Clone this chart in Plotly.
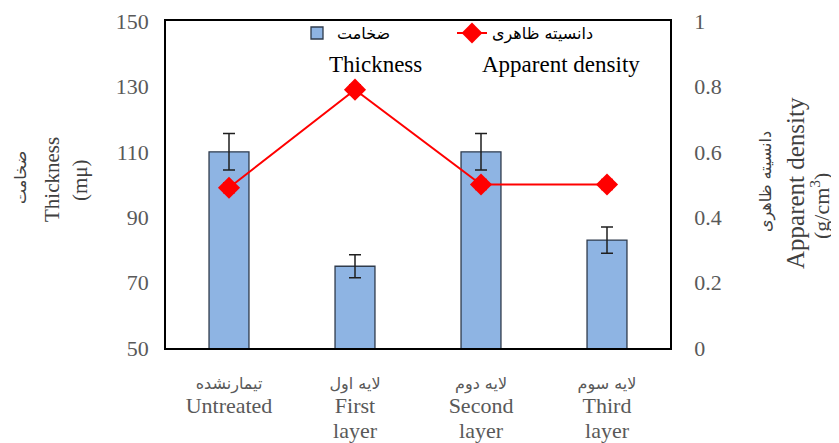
import plotly.graph_objects as go

categories = ["Untreated", "First layer", "Second layer", "Third layer"]
tick_fa = ["تیمارنشده", "لایه اول", "لایه دوم", "لایه سوم"]
tick_en = ["Untreated", "First<br>layer", "Second<br>layer", "Third<br>layer"]
thickness = [110, 75, 110, 83]
thickness_err = [5.6, 3.5, 5.6, 4.0]
density = [0.49, 0.79, 0.50, 0.50]
density_err = [0.015, 0.015, 0.015, 0.015]

SERIF = "Liberation Serif, Times New Roman, serif"
FA = "DejaVu Sans, Noto Sans, sans-serif"

ticktext = []
for f, e in zip(tick_fa, tick_en):
    en = "<br>".join(f"<span style='font-size:22px'>{p}</span>" for p in e.split("<br>"))
    ticktext.append(f"<span style='font-family:{FA};font-size:16px'>{f}</span><br>{en}")

fig = go.Figure()
fig.add_trace(go.Bar(
    x=categories, y=thickness, name="ضخامت",
    width=0.317,
    marker=dict(color="#8EB4E3", line=dict(color="#2F3B4C", width=1.3)),
    error_y=dict(type="data", array=thickness_err, color="#1F1F1F", thickness=1.5, width=6),
    yaxis="y",
))
fig.add_trace(go.Scatter(
    x=categories, y=density, name="دانسیته ظاهری",
    mode="lines+markers",
    line=dict(color="#FF0000", width=2),
    marker=dict(symbol="diamond", size=17, color="#FF0000"),
    error_y=dict(type="data", array=density_err, color="#FF0000", thickness=1.5, width=6),
    yaxis="y2",
))

# page pixel -> paper coordinates (plot area spans x 166..670, y 21..348 on the page)
def px2x(px):
    return (px - 166) / 504

def px2y(py):
    return (348 - py) / 327

annotations = [
    dict(text="Thickness", x=px2x(375), y=px2y(64), font=dict(family=SERIF, size=23, color="black")),
    dict(text="Apparent density", x=px2x(561), y=px2y(64), font=dict(family=SERIF, size=23, color="black")),
    dict(text="ضخامت", x=px2x(20), y=px2y(178), textangle=-90, font=dict(family=FA, size=16, color="#404040")),
    dict(text="Thickness", x=px2x(52), y=px2y(180), textangle=-90, font=dict(family=SERIF, size=21, color="#404040")),
    dict(text="(mμ)", x=px2x(80), y=px2y(180), textangle=-90, font=dict(family=SERIF, size=21, color="#404040")),
    dict(text="دانسیته ظاهری", x=px2x(766), y=px2y(182), textangle=-90, font=dict(family=FA, size=16, color="#404040")),
    dict(text="Apparent density", x=px2x(795), y=px2y(183), textangle=-90, font=dict(family=SERIF, size=25, color="#404040")),
    dict(text="(g/cm<sup>3</sup>)", x=px2x(820), y=px2y(206), textangle=-90, font=dict(family=SERIF, size=22, color="#404040")),
]
for a in annotations:
    a.update(xref="paper", yref="paper", showarrow=False, xanchor="center", yanchor="middle")

fig.update_layout(
    width=831, height=435,
    margin=dict(l=158, r=169, t=13, b=95, autoexpand=False),
    paper_bgcolor="white", plot_bgcolor="white",
    font=dict(family=SERIF, size=19, color="#595959"),
    showlegend=True,
    legend=dict(orientation="h", x=px2x(297), y=1.015, xanchor="left", yanchor="top",
                bgcolor="rgba(0,0,0,0)", font=dict(family=FA, size=16, color="black"),
                entrywidth=110, entrywidthmode="pixels", traceorder="normal"),
    xaxis=dict(
        tickmode="array", tickvals=categories, ticktext=ticktext,
        showline=True, linecolor="black", linewidth=1.5, mirror=True,
        showgrid=False, ticks="", ticklabelstandoff=16, automargin=False,
        tickfont=dict(family=SERIF, size=19, color="#595959"),
    ),
    yaxis=dict(
        range=[50, 150], dtick=20, tick0=50,
        showline=True, linecolor="black", linewidth=1.5,
        showgrid=False, ticks="", ticklabelstandoff=11, zeroline=False, automargin=False,
        tickfont=dict(family=SERIF, size=22, color="#595959"),
    ),
    yaxis2=dict(
        range=[0, 1], dtick=0.2, tick0=0, overlaying="y", side="right",
        showline=True, linecolor="black", linewidth=1.5,
        showgrid=False, ticks="", ticklabelstandoff=18, zeroline=False, automargin=False,
        tickfont=dict(family=SERIF, size=22, color="#595959"),
    ),
    annotations=annotations,
    bargap=0.5,
)

fig.write_html("out.html")
